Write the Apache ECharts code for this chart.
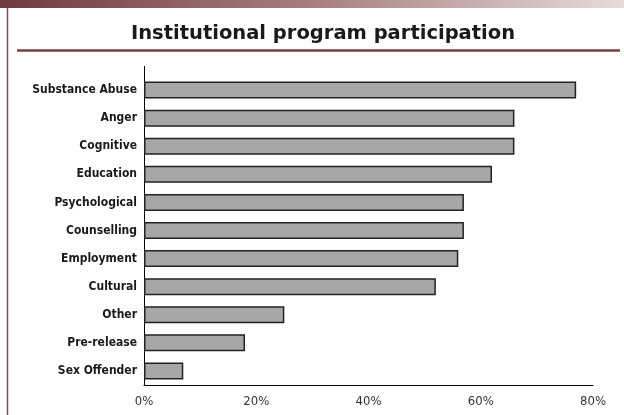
<!DOCTYPE html>
<html>
<head>
<meta charset="utf-8">
<script src="https://cdn.jsdelivr.net/npm/echarts@6/dist/echarts.min.js"></script>
<style>
  html, body { margin: 0; padding: 0; background: #ffffff; }
  #chart { width: 624px; height: 415px; }
</style>
</head>
<body>
<div id="chart"></div>
<script>
// Program categories, top to bottom
var programs = [
  'Substance Abuse', 'Anger', 'Cognitive', 'Education', 'Psychological',
  'Counselling', 'Employment', 'Cultural', 'Other', 'Pre-release', 'Sex Offender'
];
// Share of participants (%)
var participation = [77, 66, 66, 62, 57, 57, 56, 52, 25, 18, 7];
// Percent axis ticks
var axisMin = 0;
var axisMax = 80;
var axisStep = 20;

var chart = echarts.init(document.getElementById('chart'), null, { renderer: 'canvas' });

var labelFont = '"DejaVu Sans Condensed", "Liberation Sans Narrow", sans-serif';

chart.setOption({
  backgroundColor: '#ffffff',
  animation: false,
  title: {
    text: 'Institutional program participation',
    left: 318,
    textAlign: 'center',
    top: 19,
    textStyle: {
      fontFamily: '"DejaVu Sans", sans-serif',
      fontWeight: 'bold',
      fontSize: 19.5,
      color: '#1a1a1a'
    }
  },
  graphic: [
    {
      type: 'rect',
      shape: { x: 0, y: 0, width: 624, height: 8 },
      style: {
        fill: new echarts.graphic.LinearGradient(0, 0, 1, 0, [
          { offset: 0, color: '#6f3a40' },
          { offset: 0.5, color: '#a67e7f' },
          { offset: 1, color: '#e6dcdb' }
        ])
      }
    },
    {
      type: 'line',
      shape: { x1: 7.5, y1: 8, x2: 7.5, y2: 415 },
      style: { stroke: '#7d4b52', lineWidth: 1.5 }
    },
    {
      type: 'line',
      shape: { x1: 17, y1: 50.5, x2: 620, y2: 50.5 },
      style: { stroke: '#7a3e45', lineWidth: 2.5 }
    },
    {
      type: 'line',
      shape: { x1: 144.5, y1: 66, x2: 144.5, y2: 77 },
      style: { stroke: '#000000', lineWidth: 1 }
    }
  ],
  grid: {
    left: 144,
    right: 31,
    top: 76,
    bottom: 30,
    containLabel: false
  },
  xAxis: {
    type: 'value',
    min: axisMin,
    max: axisMax,
    interval: axisStep,
    axisLine: { show: true, lineStyle: { color: '#000000', width: 1 } },
    axisTick: { show: false },
    splitLine: { show: false },
    axisLabel: {
      formatter: '{value}%',
      margin: 10,
      fontFamily: labelFont,
      fontSize: 13,
      color: '#333333'
    }
  },
  yAxis: {
    type: 'category',
    inverse: true,
    data: programs,
    axisLine: { show: true, lineStyle: { color: '#000000', width: 1 } },
    axisTick: { show: false },
    axisLabel: {
      margin: 7,
      fontFamily: labelFont,
      fontWeight: 'bold',
      fontSize: 12,
      color: '#1a1a1a'
    }
  },
  series: [{
    type: 'bar',
    data: participation,
    barWidth: 17,
    itemStyle: {
      color: '#a7a7a7',
      borderColor: '#222222',
      borderWidth: 1.5
    }
  }]
});
</script>
</body>
</html>
